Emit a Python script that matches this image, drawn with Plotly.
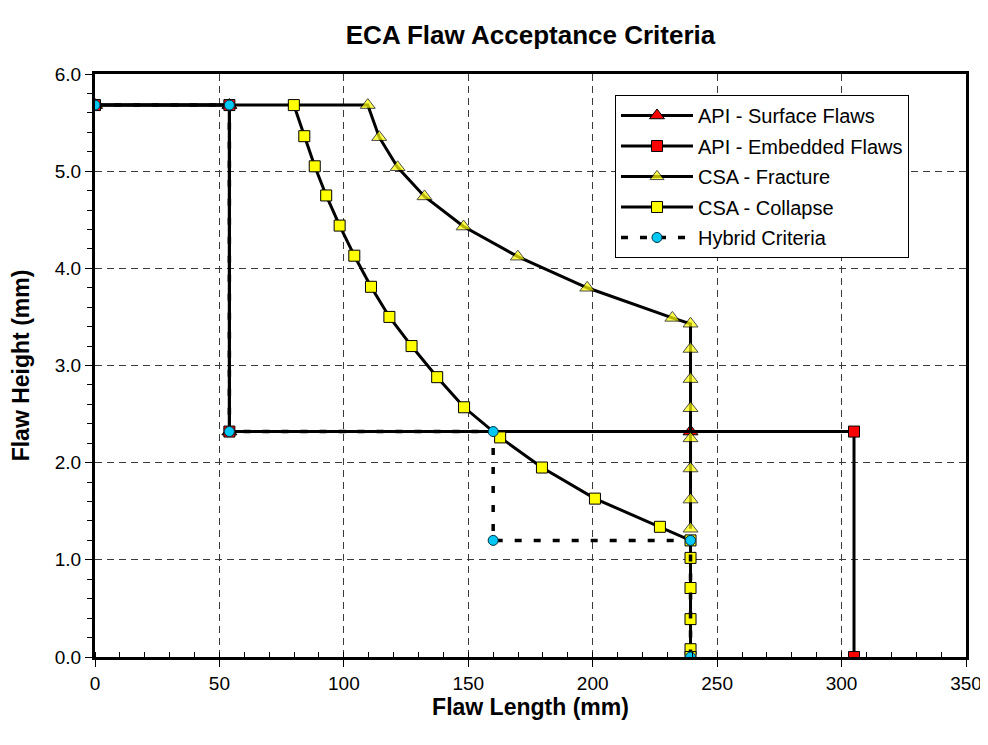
import plotly.graph_objects as go

# ---- data ----
api_surface_len = [0, 54, 54, 239.3]
api_surface_ht = [5.68, 5.68, 2.32, 2.32]

api_embedded_len = [0, 54, 54, 305, 305]
api_embedded_ht = [5.68, 5.68, 2.32, 2.32, 0.0]

csa_fracture_len = [0, 109.6, 114.2, 121.6, 132.4, 148.1, 169.9, 197.8, 232.0,
                    239.3, 239.3, 239.3, 239.3, 239.3, 239.3, 239.3, 239.3]
csa_fracture_ht = [5.68, 5.68, 5.35, 5.04, 4.74, 4.43, 4.12, 3.80, 3.49,
                   3.43, 3.17, 2.86, 2.56, 2.25, 1.94, 1.62, 1.32]

csa_collapse_len = [79.9, 84.1, 88.3, 92.9, 98.3, 104.2, 110.9, 118.3, 127.2,
                    137.5, 148.3, 162.8, 179.6, 200.9, 227.0,
                    239.3, 239.3, 239.3, 239.3, 239.3, 239.3]
csa_collapse_ht = [5.68, 5.36, 5.05, 4.75, 4.44, 4.13, 3.81, 3.50, 3.20,
                   2.88, 2.57, 2.26, 1.95, 1.63, 1.34,
                   1.20, 1.02, 0.71, 0.39, 0.08, 0.0]

hybrid_len = [0, 54, 54, 160, 160, 239.3, 239.3]
hybrid_ht = [5.68, 5.68, 2.32, 2.32, 1.20, 1.20, 0.0]

x_ticks = [0, 50, 100, 150, 200, 250, 300, 350]
y_ticks = [0.0, 1.0, 2.0, 3.0, 4.0, 5.0, 6.0]

FONT = "Arial, Liberation Sans, sans-serif"
SQ = 11
TRI = 13
CIR = 10
LW = 3

fig = go.Figure()

fig.add_trace(go.Scatter(
    x=api_surface_len, y=api_surface_ht, mode="lines+markers",
    name="API - Surface Flaws", legendgroup="a",
    line=dict(color="black", width=LW),
    marker=dict(symbol="triangle-up", size=TRI, color="#FF0000",
                line=dict(color="black", width=1))))

fig.add_trace(go.Scatter(
    x=api_embedded_len, y=api_embedded_ht, mode="lines+markers",
    name="API - Embedded Flaws", legendgroup="b",
    line=dict(color="black", width=LW),
    marker=dict(symbol="square", size=SQ, color="#FF0000",
                line=dict(color="black", width=1))))

frac_sizes = [0] + [TRI] * (len(csa_fracture_len) - 1)
fig.add_trace(go.Scatter(
    x=csa_fracture_len, y=csa_fracture_ht, mode="lines+markers",
    name="CSA - Fracture", legendgroup="c",
    line=dict(color="black", width=LW),
    marker=dict(symbol="triangle-up", size=frac_sizes, color="#FFFF00",
                line=dict(color="black", width=1))))

fig.add_trace(go.Scatter(
    x=csa_collapse_len, y=csa_collapse_ht, mode="lines+markers",
    name="CSA - Collapse", legendgroup="d",
    line=dict(color="black", width=LW),
    marker=dict(symbol="square", size=SQ, color="#FFFF00",
                line=dict(color="black", width=1))))

fig.add_trace(go.Scatter(
    x=hybrid_len, y=hybrid_ht, mode="lines+markers",
    name="Hybrid Criteria", legendgroup="e",
    line=dict(color="black", width=3.5, dash="7px,12px"),
    marker=dict(symbol="circle", size=CIR, color="#00C8F5",
                line=dict(color="#003040", width=1))))

grid = dict(showgrid=True, gridcolor="#3a3a3a", gridwidth=1, griddash="7px,5px")

# the page body adds an 8px offset; margins below compensate for it
fig.update_layout(
    width=988, height=745,
    margin=dict(l=87, r=30, t=66, b=96),
    paper_bgcolor="white", plot_bgcolor="white",
    font=dict(family=FONT, color="black", size=19),
    title=dict(text="<b>ECA Flaw Acceptance Criteria</b>",
               x=0.5, xref="paper", xanchor="center",
               y=1 - 27 / 745, yref="container", yanchor="middle",
               font=dict(size=26, family=FONT, color="black")),
    showlegend=True,
    legend=dict(x=0.597, y=0.964, xanchor="left", yanchor="top",
                bgcolor="white", bordercolor="black", borderwidth=1,
                font=dict(size=20, family=FONT, color="black"),
                tracegroupgap=1.5, itemwidth=72,
                entrywidth=237, entrywidthmode="pixels"),
    xaxis=dict(range=[0, 350], tickvals=x_ticks,
               ticktext=[str(v) for v in x_ticks],
               ticks="outside", ticklen=7, tickwidth=1, tickcolor="black",
               minor=dict(dtick=10, ticks="inside", ticklen=5, tickcolor="black",
                          showgrid=False),
               showline=True, linecolor="black", linewidth=3, mirror=True,
               zeroline=False, automargin=False,
               title=dict(text="<b>Flaw Length (mm)</b>", standoff=2,
                          font=dict(size=23, family=FONT)),
               **grid),
    yaxis=dict(range=[0, 6], tickvals=y_ticks,
               ticktext=[f"{v:.1f}" for v in y_ticks],
               ticks="outside", ticklen=7, tickwidth=1, tickcolor="black",
               minor=dict(dtick=0.2, ticks="outside", ticklen=5, tickcolor="black",
                          showgrid=False),
               showline=True, linecolor="black", linewidth=3, mirror=True,
               zeroline=False, automargin=False,
               title=dict(text="<b>Flaw Height (mm)</b>", standoff=26,
                          font=dict(size=23, family=FONT)),
               **grid),
)

fig.write_html("out.html")
